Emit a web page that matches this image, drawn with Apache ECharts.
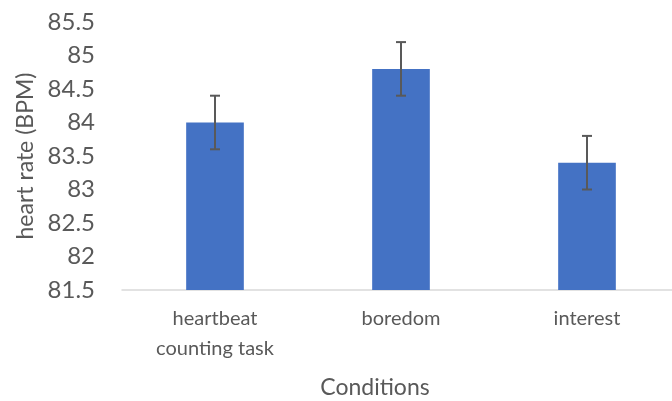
<!DOCTYPE html>
<html>
<head>
<meta charset="utf-8">
<script src="https://cdn.jsdelivr.net/npm/echarts@6/dist/echarts.min.js"></script>
<style>
    html, body { margin: 0; padding: 0; background: #fff; }
    #chart { width: 672px; height: 401px; }
</style>
</head>
<body>
<div id="chart"></div>
<script>
// data
var categories = ['heartbeat\ncounting task', 'boredom', 'interest'];
var meanRate = [84.0, 84.8, 83.4];
var errRate = [0.4, 0.4, 0.4];

var errData = [];
for (var i = 0; i < categories.length; i++) {
    errData.push([i, meanRate[i] - errRate[i], meanRate[i] + errRate[i]]);
}

var textColor = '#595959';
var font = 'Lato, "Open Sans", sans-serif';

// error bars with caps
var renderErr = function(params, api) {
    var lo = api.coord([api.value(0), api.value(1)]);
    var hi = api.coord([api.value(0), api.value(2)]);
    var cap = 5;
    var style = { stroke: textColor, lineWidth: 2, fill: null };
    return {
        type: 'group',
        children: [
            { type: 'line', shape: { x1: hi[0], y1: hi[1], x2: lo[0], y2: lo[1] }, style: style },
            { type: 'line', shape: { x1: hi[0] - cap, y1: hi[1], x2: hi[0] + cap, y2: hi[1] }, style: style },
            { type: 'line', shape: { x1: lo[0] - cap, y1: lo[1], x2: lo[0] + cap, y2: lo[1] }, style: style }
        ]
    };
};

var myChart = echarts.init(document.getElementById('chart'));
myChart.setOption({
    animation: false,
    backgroundColor: '#fff',
    grid: {
        left: 122,
        right: -8,
        top: 22,
        bottom: 111,
        containLabel: false,
        outerBoundsMode: 'none'
    },
    xAxis: {
        type: 'category',
        data: categories,
        name: 'Conditions',
        nameLocation: 'middle',
        nameGap: 86,
        nameTextStyle: { fontSize: 23, color: textColor, fontFamily: font, padding: [0, 52, 0, 0] },
        axisLine: { lineStyle: { color: '#d9d9d9', width: 1.5 } },
        axisTick: { show: false },
        axisLabel: {
            margin: 14,
            fontSize: 20,
            lineHeight: 30,
            color: textColor,
            fontFamily: font
        }
    },
    yAxis: {
        type: 'value',
        min: 81.5,
        max: 85.5,
        interval: 0.5,
        name: 'heart rate (BPM)',
        nameLocation: 'middle',
        nameGap: 84,
        nameTextStyle: { fontSize: 23, color: textColor, fontFamily: font },
        axisLine: { show: false },
        axisTick: { show: false },
        splitLine: { show: false },
        axisLabel: {
            margin: 27,
            fontSize: 24,
            color: textColor,
            fontFamily: font
        }
    },
    series: [
        {
            type: 'bar',
            data: meanRate,
            barWidth: '31%',
            itemStyle: { color: '#4472C4' }
        },
        {
            type: 'custom',
            renderItem: renderErr,
            data: errData,
            encode: { x: 0, y: [1, 2] },
            z: 10
        }
    ]
});
</script>
</body>
</html>
